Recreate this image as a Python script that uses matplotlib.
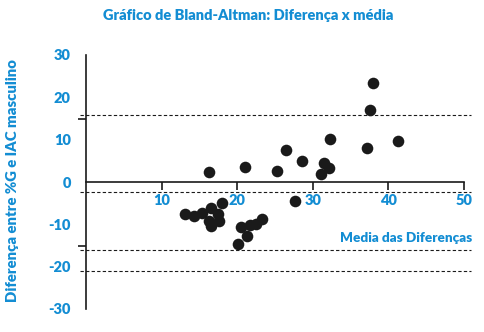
import matplotlib
matplotlib.use("Agg")
import matplotlib.pyplot as plt

# Data
media = [37.97, 37.6, 32.3, 41.3, 37.2, 26.4, 28.6, 31.5, 32.1, 31.1, 21.0, 25.3, 16.3,
         27.7, 18.0, 13.1, 14.3, 15.4, 16.5, 17.5, 17.6, 16.3, 16.5, 20.5, 21.75, 22.5,
         23.3, 21.3, 20.1]
diferenca = [23.5, 16.9, 10.2, 9.6, 8.0, 7.5, 5.0, 4.6, 3.3, 2.0, 3.6, 2.7, 2.4,
             -4.6, -5.0, -7.5, -8.1, -7.3, -6.1, -7.6, -9.1, -9.2, -10.3, -10.7, -10.2, -9.9,
             -8.7, -12.8, -14.6]
ref_lines = [15.8, -2.4, -16.1, -21.1]
xticks = [10, 20, 30, 40, 50]
yticks = [30, 20, 10, 0, -10, -20, -30]
ytick_marks = [30, 15, 0, -15, -30]

blue = "#138dd3"
dark = "#1a1a1a"
W, H = 485, 332
fig = plt.figure(figsize=(W / 100, H / 100), dpi=100)
plt.rcParams['font.family'] = ['Lato', 'DejaVu Sans']

left, right = 86 / W, 464 / W
bottom, top = (H - 309) / H, (H - 55) / H
ax = fig.add_axes([left, bottom, right - left, top - bottom])
ax.set_xlim(0, 50)
ax.set_ylim(-30, 30)

for y in ref_lines:
    ax.plot([-0.8, 50.9], [y, y], ls=(0, (3, 2)), color=dark, lw=0.8, clip_on=False, zorder=1)

ax.scatter(media, diferenca, s=70, color=dark, zorder=3, clip_on=False, linewidths=0)

ax.spines['top'].set_visible(False)
ax.spines['right'].set_visible(False)
ax.spines['bottom'].set_position(('data', 0))
for s in ['left', 'bottom']:
    ax.spines[s].set_color(dark)
    ax.spines[s].set_linewidth(1.2)

ax.set_xticks(xticks)
ax.set_xticklabels([str(v) for v in xticks])
ax.tick_params(axis='x', direction='out', length=6, width=1.2, color=dark, pad=2.5,
               labelcolor=blue, labelsize=10.5)
for t in ax.get_xticklabels():
    t.set_fontweight('heavy')

ax.set_yticks(yticks)
ax.set_yticklabels([str(v) for v in yticks])
ax.set_yticks(ytick_marks, minor=True)
ax.tick_params(axis='y', which='major', length=0, pad=11, labelcolor=blue, labelsize=10.5)
ax.tick_params(axis='y', which='minor', length=6, width=1.2, color=dark, direction='out')
for t in ax.get_yticklabels():
    t.set_fontweight('heavy')

fig.text(248 / W, 1 - 16 / H, "Gráfico de Bland-Altman: Diferença x média", color=blue,
         fontsize=10.5, fontweight='heavy', ha='center', va='center')
fig.text(472 / W, 1 - 238 / H, "Media das Diferenças", color=blue, fontsize=9.7,
         fontweight='heavy', ha='right', va='center')
fig.text(13 / W, 1 - 181 / H, "Diferença entre %G e IAC masculino", color=blue,
         fontsize=10.7, fontweight='heavy', ha='center', va='center', rotation=90)

fig.savefig("out.png", dpi=100)
